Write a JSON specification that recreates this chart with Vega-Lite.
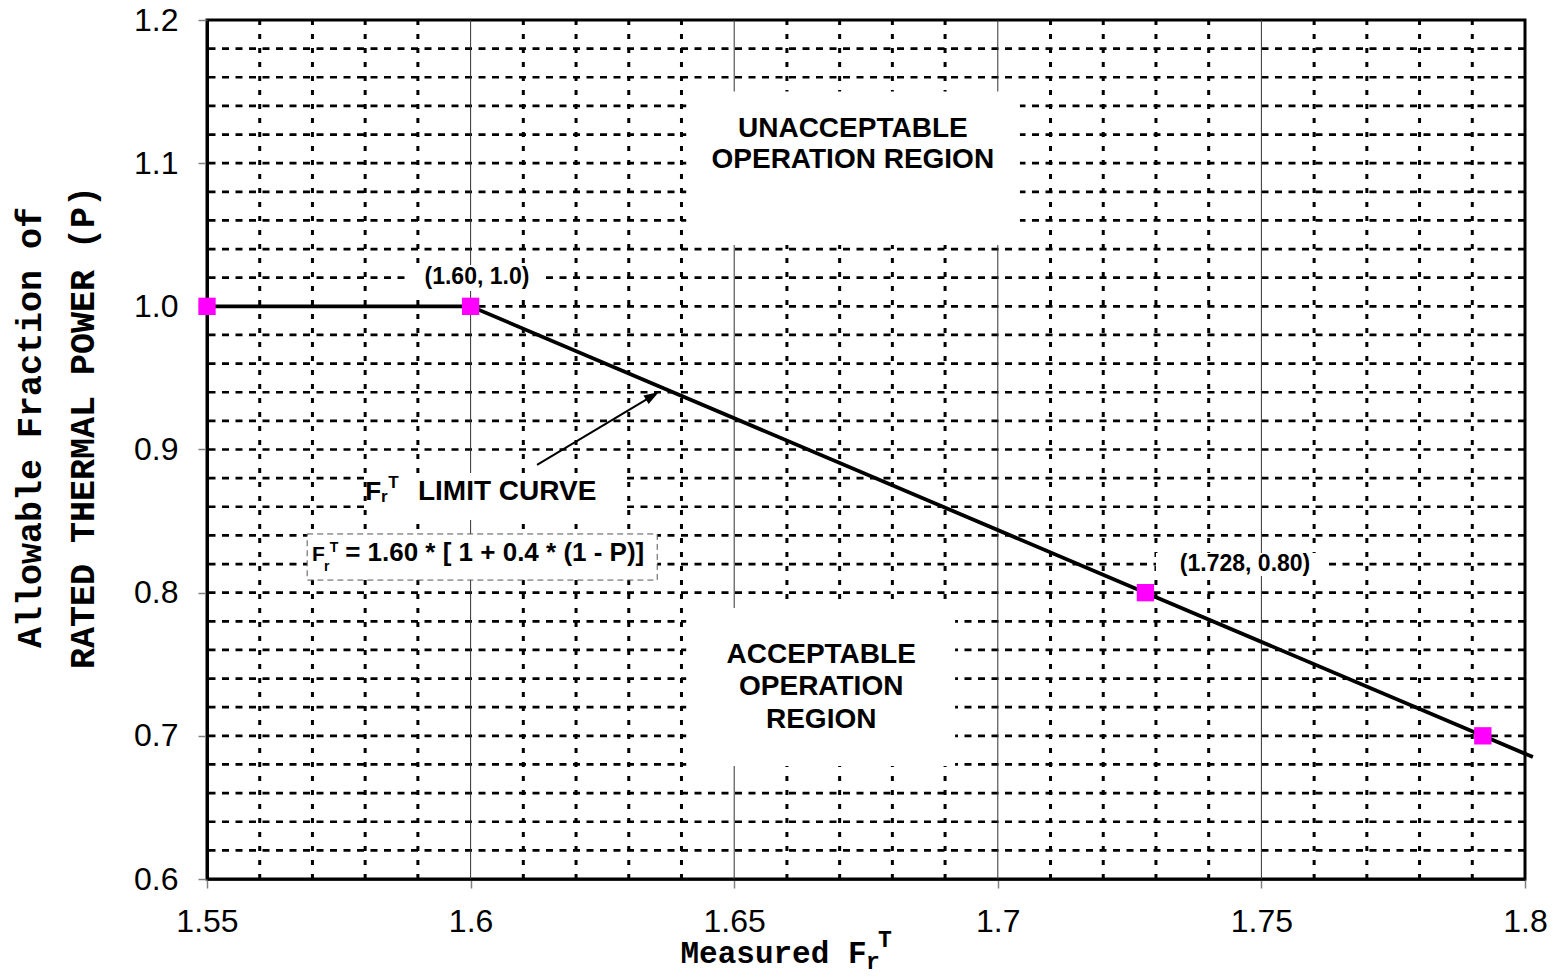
{
  "$schema": "https://vega.github.io/schema/vega-lite/v6.json",
  "autosize": {"type": "none"},
  "padding": {"left": 207, "top": 20, "right": 30, "bottom": 98},
  "width": 1318,
  "height": 859,
  "background": "white",
  "config": {
    "view": {"stroke": "black", "strokeWidth": 3},
    "axis": {
      "grid": false,
      "labelFont": "Liberation Sans", "labelFontSize": 32, "labelColor": "black",
      "labelFlush": false, "labelOverlap": false, "labelPadding": 20,
      "tickColor": "#808080", "tickSize": 9, "tickWidth": 1.5,
      "domainColor": "black",
      "titleFont": "Liberation Mono", "titleFontWeight": "bold", "titleColor": "black"
    },
    "axisX": {"domainWidth": 2.5, "labelPadding": 18},
    "axisY": {"domainWidth": 3}
  },
  "datasets": {
    "gridMinorX": [{"x":1.56},{"x":1.57},{"x":1.58},{"x":1.59},{"x":1.61},{"x":1.62},{"x":1.63},{"x":1.64},{"x":1.66},{"x":1.67},{"x":1.68},{"x":1.69},{"x":1.71},{"x":1.72},{"x":1.73},{"x":1.74},{"x":1.76},{"x":1.77},{"x":1.78},{"x":1.79}],
    "gridMajorX": [{"x":1.6},{"x":1.65},{"x":1.7},{"x":1.75}],
    "gridY": [{"y":0.62},{"y":0.64},{"y":0.66},{"y":0.68},{"y":0.70},{"y":0.72},{"y":0.74},{"y":0.76},{"y":0.78},{"y":0.80},{"y":0.82},{"y":0.84},{"y":0.86},{"y":0.88},{"y":0.90},{"y":0.92},{"y":0.94},{"y":0.96},{"y":0.98},{"y":1.00},{"y":1.02},{"y":1.04},{"y":1.06},{"y":1.08},{"y":1.10},{"y":1.12},{"y":1.14},{"y":1.16},{"y":1.18}],
    "boxes": [
      {"x":1.6409,"x2":1.7042,"y":1.150,"y2":1.0428},
      {"x":1.6409,"x2":1.6919,"y":0.7893,"y2":0.6789},
      {"x":1.5805,"x2":1.6291,"y":0.8836,"y2":0.8508},
      {"x":1.5885,"x2":1.6140,"y":1.0289,"y2":1.0107},
      {"x":1.7300,"x2":1.7620,"y":0.8277,"y2":0.8116}
    ],
    "formulaBox": [{"x":1.5690,"x2":1.6354,"y":0.8410,"y2":0.8088}],
    "curve": [{"fr":1.55,"p":1.0},{"fr":1.6,"p":1.0},{"fr":1.728,"p":0.8},{"fr":1.792,"p":0.7},{"fr":1.8015,"p":0.6852}],
    "points": [{"fr":1.55,"p":1.0},{"fr":1.6,"p":1.0},{"fr":1.728,"p":0.8},{"fr":1.792,"p":0.7}],
    "arrow": [{"x":1.6126,"y":0.8892,"x2":1.6345,"y2":0.9374}],
    "arrowHead": [{"x":1.6345,"y":0.9374}],
    "regionLabels": [
      {"x":1.6725,"y":1.1185,"text":"UNACCEPTABLE"},
      {"x":1.6725,"y":1.0964,"text":"OPERATION REGION"},
      {"x":1.6665,"y":0.7507,"text":"ACCEPTABLE"},
      {"x":1.6665,"y":0.7285,"text":"OPERATION"},
      {"x":1.6665,"y":0.7053,"text":"REGION"}
    ],
    "pointLabels": [
      {"x":1.6012,"y":1.0156,"text":"(1.60, 1.0)"},
      {"x":1.7469,"y":0.8153,"text":"(1.728, 0.80)"}
    ],
    "limitF": [{"x":1.58,"y":0.8650,"text":"F"}],
    "limitMain": [{"x":1.59002,"y":0.8650,"text":"LIMIT CURVE"}],
    "limitScript": [
      {"x":1.58300,"y":0.8630,"text":"r"},
      {"x":1.58440,"y":0.8731,"text":"T"}
    ],
    "formulaF": [{"x":1.5699,"y":0.8218,"text":"F"}],
    "formulaMain": [{"x":1.5762,"y":0.8218,"text":"= 1.60 * [ 1 + 0.4 * (1 - P)]"}],
    "formulaScript": [
      {"x":1.5722,"y":0.8148,"text":"r"},
      {"x":1.5733,"y":0.8286,"text":"T"}
    ],
    "titleScript": [
      {"x":1.67500,"y":0.5368,"text":"r"},
      {"x":1.67728,"y":0.5525,"text":"T"}
    ]
  },
  "layer": [
    {
      "data": {"name": "gridMinorX"},
      "mark": {"type": "rule", "color": "black", "strokeWidth": 3, "strokeDash": [5, 9]},
      "encoding": {
        "x": {
          "field": "x", "type": "quantitative",
          "scale": {"domain": [1.55, 1.8], "nice": false, "zero": false},
          "axis": {
            "values": [1.55, 1.6, 1.65, 1.7, 1.75, 1.8],
            "format": ".2~f",
            "title": "Measured F",
            "titleFontSize": 31,
            "titleX": 473, "titleY": 83, "titleBaseline": "alphabetic", "titleAlign": "left"
          }
        }
      }
    },
    {
      "data": {"name": "gridY"},
      "mark": {"type": "rule", "color": "black", "strokeWidth": 2.7, "strokeDash": [7, 6.5]},
      "encoding": {
        "y": {
          "field": "y", "type": "quantitative",
          "scale": {"domain": [0.6, 1.2], "nice": false, "zero": false},
          "axis": {
            "values": [0.6, 0.7, 0.8, 0.9, 1.0, 1.1, 1.2],
            "format": ".1f",
            "title": ["Allowable Fraction of", "RATED THERMAL POWER (P)"],
            "titleFontSize": 35,
            "titleX": -195, "titleY": 407, "titleBaseline": "top", "titleAlign": "center", "titleAngle": -90,
            "titleLineHeight": 53
          }
        }
      }
    },
    {
      "data": {"name": "gridMajorX"},
      "mark": {"type": "rule", "color": "#333333", "strokeWidth": 1},
      "encoding": {
        "x": {"field": "x", "type": "quantitative", "scale": {"domain": [1.55, 1.8], "nice": false, "zero": false}}
      }
    },
    {
      "data": {"name": "boxes"},
      "mark": {"type": "rect", "fill": "white", "stroke": null},
      "encoding": {
        "x": {"field": "x", "type": "quantitative", "scale": {"domain": [1.55, 1.8], "nice": false, "zero": false}},
        "x2": {"field": "x2"},
        "y": {"field": "y", "type": "quantitative", "scale": {"domain": [0.6, 1.2], "nice": false, "zero": false}},
        "y2": {"field": "y2"}
      }
    },
    {
      "data": {"name": "formulaBox"},
      "mark": {"type": "rect", "fill": "white", "stroke": "#555555", "strokeWidth": 1, "strokeDash": [6, 4]},
      "encoding": {
        "x": {"field": "x", "type": "quantitative", "scale": {"domain": [1.55, 1.8], "nice": false, "zero": false}},
        "x2": {"field": "x2"},
        "y": {"field": "y", "type": "quantitative", "scale": {"domain": [0.6, 1.2], "nice": false, "zero": false}},
        "y2": {"field": "y2"}
      }
    },
    {
      "data": {"name": "curve"},
      "mark": {"type": "line", "color": "black", "strokeWidth": 3.8},
      "encoding": {
        "x": {"field": "fr", "type": "quantitative", "scale": {"domain": [1.55, 1.8], "nice": false, "zero": false}},
        "y": {"field": "p", "type": "quantitative", "scale": {"domain": [0.6, 1.2], "nice": false, "zero": false}},
        "order": {"field": "fr", "type": "quantitative"}
      }
    },
    {
      "data": {"name": "arrow"},
      "mark": {"type": "rule", "color": "black", "strokeWidth": 2},
      "encoding": {
        "x": {"field": "x", "type": "quantitative", "scale": {"domain": [1.55, 1.8], "nice": false, "zero": false}},
        "x2": {"field": "x2"},
        "y": {"field": "y", "type": "quantitative", "scale": {"domain": [0.6, 1.2], "nice": false, "zero": false}},
        "y2": {"field": "y2"}
      }
    },
    {
      "data": {"name": "arrowHead"},
      "mark": {"type": "point", "shape": "M0,-1L0.667,1L-0.667,1Z", "filled": true, "color": "black", "opacity": 1, "size": 225, "angle": 59},
      "encoding": {
        "x": {"field": "x", "type": "quantitative", "scale": {"domain": [1.55, 1.8], "nice": false, "zero": false}},
        "y": {"field": "y", "type": "quantitative", "scale": {"domain": [0.6, 1.2], "nice": false, "zero": false}}
      }
    },
    {
      "data": {"name": "points"},
      "mark": {"type": "point", "shape": "square", "filled": true, "color": "#FF00FF", "opacity": 1, "size": 300},
      "encoding": {
        "x": {"field": "fr", "type": "quantitative", "scale": {"domain": [1.55, 1.8], "nice": false, "zero": false}},
        "y": {"field": "p", "type": "quantitative", "scale": {"domain": [0.6, 1.2], "nice": false, "zero": false}}
      }
    },
    {
      "data": {"name": "regionLabels"},
      "mark": {"type": "text", "font": "Liberation Sans", "fontWeight": "bold", "fontSize": 28, "color": "black", "align": "center", "baseline": "alphabetic"},
      "encoding": {
        "x": {"field": "x", "type": "quantitative", "scale": {"domain": [1.55, 1.8], "nice": false, "zero": false}},
        "y": {"field": "y", "type": "quantitative", "scale": {"domain": [0.6, 1.2], "nice": false, "zero": false}},
        "text": {"field": "text"}
      }
    },
    {
      "data": {"name": "pointLabels"},
      "mark": {"type": "text", "font": "Liberation Sans", "fontWeight": "bold", "fontSize": 23, "color": "black", "align": "center", "baseline": "alphabetic"},
      "encoding": {
        "x": {"field": "x", "type": "quantitative", "scale": {"domain": [1.55, 1.8], "nice": false, "zero": false}},
        "y": {"field": "y", "type": "quantitative", "scale": {"domain": [0.6, 1.2], "nice": false, "zero": false}},
        "text": {"field": "text"}
      }
    },
    {
      "data": {"name": "limitF"},
      "mark": {"type": "text", "font": "Liberation Sans", "fontWeight": "bold", "fontSize": 26, "color": "black", "align": "left", "baseline": "alphabetic"},
      "encoding": {
        "x": {"field": "x", "type": "quantitative", "scale": {"domain": [1.55, 1.8], "nice": false, "zero": false}},
        "y": {"field": "y", "type": "quantitative", "scale": {"domain": [0.6, 1.2], "nice": false, "zero": false}},
        "text": {"field": "text"}
      }
    },
    {
      "data": {"name": "limitMain"},
      "mark": {"type": "text", "font": "Liberation Sans", "fontWeight": "bold", "fontSize": 28, "color": "black", "align": "left", "baseline": "alphabetic"},
      "encoding": {
        "x": {"field": "x", "type": "quantitative", "scale": {"domain": [1.55, 1.8], "nice": false, "zero": false}},
        "y": {"field": "y", "type": "quantitative", "scale": {"domain": [0.6, 1.2], "nice": false, "zero": false}},
        "text": {"field": "text"}
      }
    },
    {
      "data": {"name": "limitScript"},
      "mark": {"type": "text", "font": "Liberation Sans", "fontWeight": "bold", "fontSize": 17, "color": "black", "align": "left", "baseline": "alphabetic"},
      "encoding": {
        "x": {"field": "x", "type": "quantitative", "scale": {"domain": [1.55, 1.8], "nice": false, "zero": false}},
        "y": {"field": "y", "type": "quantitative", "scale": {"domain": [0.6, 1.2], "nice": false, "zero": false}},
        "text": {"field": "text"}
      }
    },
    {
      "data": {"name": "formulaF"},
      "mark": {"type": "text", "font": "Liberation Sans", "fontWeight": "bold", "fontSize": 21, "color": "black", "align": "left", "baseline": "alphabetic"},
      "encoding": {
        "x": {"field": "x", "type": "quantitative", "scale": {"domain": [1.55, 1.8], "nice": false, "zero": false}},
        "y": {"field": "y", "type": "quantitative", "scale": {"domain": [0.6, 1.2], "nice": false, "zero": false}},
        "text": {"field": "text"}
      }
    },
    {
      "data": {"name": "formulaMain"},
      "mark": {"type": "text", "font": "Liberation Sans", "fontWeight": "bold", "fontSize": 26, "color": "black", "align": "left", "baseline": "alphabetic"},
      "encoding": {
        "x": {"field": "x", "type": "quantitative", "scale": {"domain": [1.55, 1.8], "nice": false, "zero": false}},
        "y": {"field": "y", "type": "quantitative", "scale": {"domain": [0.6, 1.2], "nice": false, "zero": false}},
        "text": {"field": "text"}
      }
    },
    {
      "data": {"name": "formulaScript"},
      "mark": {"type": "text", "font": "Liberation Sans", "fontWeight": "bold", "fontSize": 14, "color": "black", "align": "left", "baseline": "alphabetic"},
      "encoding": {
        "x": {"field": "x", "type": "quantitative", "scale": {"domain": [1.55, 1.8], "nice": false, "zero": false}},
        "y": {"field": "y", "type": "quantitative", "scale": {"domain": [0.6, 1.2], "nice": false, "zero": false}},
        "text": {"field": "text"}
      }
    },
    {
      "data": {"name": "titleScript"},
      "mark": {"type": "text", "font": "Liberation Mono", "fontWeight": "bold", "fontSize": 23, "color": "black", "align": "left", "baseline": "alphabetic"},
      "encoding": {
        "x": {"field": "x", "type": "quantitative", "scale": {"domain": [1.55, 1.8], "nice": false, "zero": false}},
        "y": {"field": "y", "type": "quantitative", "scale": {"domain": [0.6, 1.2], "nice": false, "zero": false}},
        "text": {"field": "text"}
      }
    }
  ]
}
